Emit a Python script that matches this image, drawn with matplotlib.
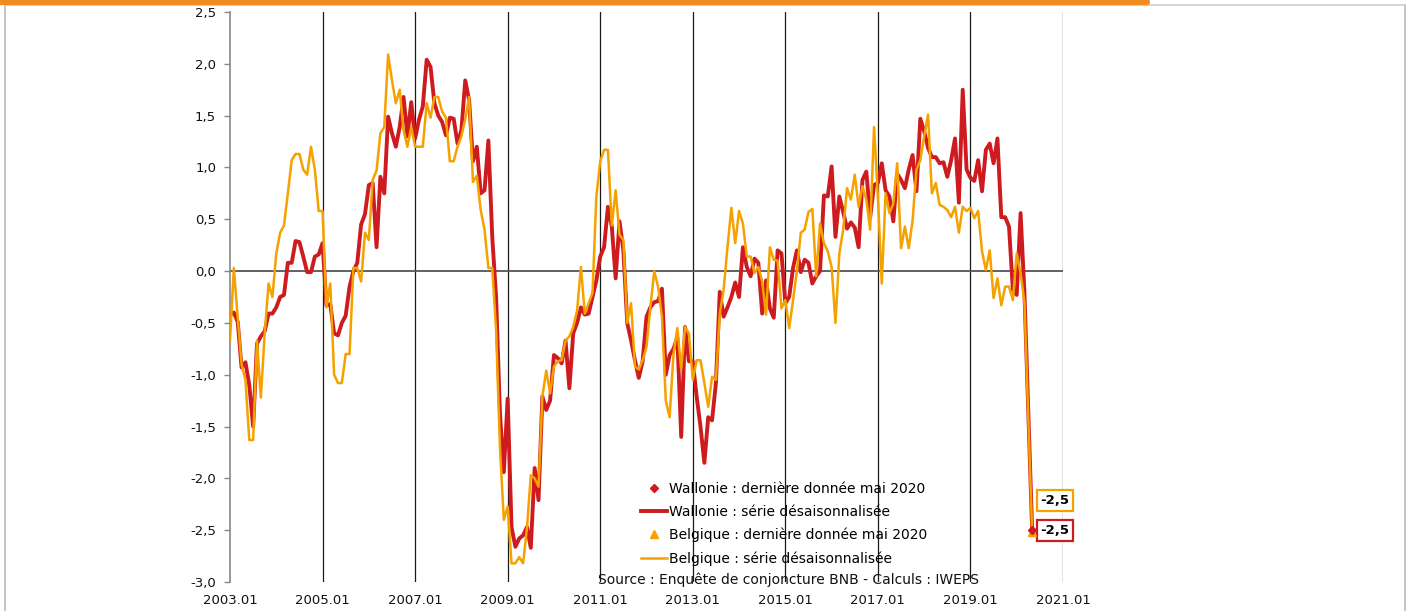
import numpy as np
import matplotlib
matplotlib.use("Agg")
import matplotlib.pyplot as plt
from matplotlib.lines import Line2D
from matplotlib.ticker import FuncFormatter

plt.rcParams['font.family'] = ['DejaVu Sans']
plt.rcParams['axes.unicode_minus'] = False

# monthly balance, 2003.01 -> 2020.05
wallonie = [
    -0.42, -0.40, -0.49, -0.93, -0.88, -1.10, -1.50, -0.70, -0.63, -0.58, -0.41, -0.41,  # 2003
    -0.35, -0.25, -0.23, 0.08, 0.08, 0.29, 0.28, 0.14, -0.01, -0.01, 0.14, 0.16,  # 2004
    0.27, -0.33, -0.32, -0.60, -0.62, -0.50, -0.43, -0.15, 0.00, 0.08, 0.45, 0.55,  # 2005
    0.83, 0.85, 0.23, 0.91, 0.75, 1.49, 1.33, 1.20, 1.39, 1.68, 1.30, 1.63,  # 2006
    1.28, 1.46, 1.59, 2.04, 1.97, 1.62, 1.50, 1.44, 1.31, 1.48, 1.47, 1.23,  # 2007
    1.36, 1.84, 1.65, 1.06, 1.20, 0.75, 0.78, 1.26, 0.33, -0.25, -1.37, -1.94,  # 2008
    -1.23, -2.47, -2.66, -2.58, -2.55, -2.47, -2.67, -1.90, -2.21, -1.21, -1.34, -1.25,  # 2009
    -0.81, -0.84, -0.89, -0.67, -1.13, -0.60, -0.50, -0.35, -0.42, -0.41, -0.25, -0.09,  # 2010
    0.14, 0.23, 0.62, 0.43, -0.07, 0.48, 0.20, -0.50, -0.67, -0.86, -1.03, -0.87,  # 2011
    -0.44, -0.35, -0.30, -0.29, -0.17, -1.00, -0.81, -0.75, -0.64, -1.60, -0.54, -0.87,  # 2012
    -0.87, -1.21, -1.50, -1.85, -1.41, -1.44, -1.08, -0.20, -0.44, -0.35, -0.25, -0.11,  # 2013
    -0.25, 0.23, 0.04, -0.05, 0.12, 0.08, -0.41, -0.09, -0.36, -0.45, 0.20, 0.17,  # 2014
    -0.31, -0.25, 0.03, 0.20, -0.01, 0.11, 0.08, -0.12, -0.05, 0.00, 0.73, 0.72,  # 2015
    1.01, 0.33, 0.72, 0.57, 0.41, 0.47, 0.42, 0.23, 0.88, 0.96, 0.52, 0.83,  # 2016
    0.85, 1.04, 0.78, 0.72, 0.48, 0.94, 0.88, 0.80, 0.98, 1.12, 0.77, 1.47,  # 2017
    1.35, 1.19, 1.10, 1.10, 1.04, 1.05, 0.91, 1.07, 1.28, 0.66, 1.75, 0.98,  # 2018
    0.90, 0.87, 1.07, 0.77, 1.17, 1.23, 1.04, 1.28, 0.52, 0.52, 0.43, -0.18,  # 2019
    -0.23, 0.56, -0.21, -1.35, -2.50,  # 2020
]
belgique = [
    -0.67, 0.03, -0.45, -0.90, -1.05, -1.63, -1.63, -0.67, -1.22, -0.60, -0.12, -0.25,  # 2003
    0.17, 0.37, 0.44, 0.75, 1.07, 1.13, 1.13, 0.98, 0.93, 1.20, 0.98, 0.58,  # 2004
    0.58, -0.35, -0.12, -1.00, -1.08, -1.08, -0.80, -0.80, 0.03, 0.03, -0.10, 0.37,  # 2005
    0.30, 0.88, 0.97, 1.33, 1.39, 2.09, 1.84, 1.62, 1.75, 1.36, 1.20, 1.39,  # 2006
    1.20, 1.20, 1.20, 1.62, 1.48, 1.68, 1.68, 1.54, 1.48, 1.06, 1.06, 1.20,  # 2007
    1.30, 1.47, 1.68, 0.86, 0.92, 0.59, 0.40, 0.03, 0.03, -0.57, -1.70, -2.40,  # 2008
    -2.27, -2.82, -2.82, -2.76, -2.82, -2.48, -1.97, -2.00, -2.08, -1.21, -0.96, -1.18,  # 2009
    -0.92, -0.87, -0.86, -0.67, -0.63, -0.54, -0.38, 0.04, -0.41, -0.31, -0.21, 0.72,  # 2010
    1.06, 1.17, 1.17, 0.44, 0.78, 0.35, 0.30, -0.50, -0.31, -0.92, -0.95, -0.86,  # 2011
    -0.73, -0.35, 0.00, -0.15, -0.44, -1.25, -1.41, -0.80, -0.55, -0.95, -0.54, -0.60,  # 2012
    -1.05, -0.86, -0.86, -1.08, -1.31, -1.02, -1.05, -0.41, -0.18, 0.23, 0.61, 0.27,  # 2013
    0.58, 0.46, 0.14, 0.14, -0.02, 0.04, -0.10, -0.42, 0.23, 0.11, 0.10, -0.36,  # 2014
    -0.28, -0.55, -0.28, 0.00, 0.37, 0.40, 0.57, 0.60, -0.05, 0.46, 0.27, 0.19,  # 2015
    0.04, -0.50, 0.17, 0.40, 0.80, 0.69, 0.93, 0.62, 0.82, 0.69, 0.40, 1.39,  # 2016
    0.72, -0.12, 0.75, 0.56, 0.65, 1.04, 0.22, 0.43, 0.22, 0.49, 0.98, 1.07,  # 2017
    1.30, 1.51, 0.75, 0.85, 0.64, 0.62, 0.59, 0.52, 0.62, 0.37, 0.62, 0.58,  # 2018
    0.61, 0.51, 0.58, 0.19, 0.01, 0.20, -0.26, -0.07, -0.33, -0.15, -0.15, -0.28,  # 2019
    0.17, -0.02, -0.30, -1.40, -2.52,  # 2020
]
tick_labels = ["2003.01", "2005.01", "2007.01", "2009.01", "2011.01",
               "2013.01", "2015.01", "2017.01", "2019.01", "2021.01"]
last_label = "-2,5"

RED = "#CE1B1F"
ORANGE = "#F5A100"

fig = plt.figure(figsize=(14.14, 6.11), dpi=100)
ax = fig.add_axes([230 / 1414, 29 / 611, 833 / 1414, 570 / 611])

x = np.arange(len(wallonie))
tick_pos = np.arange(len(tick_labels)) * 24

for t in tick_pos[1:]:
    ax.axvline(t, color="#1a1a1a", lw=0.9, zorder=1)
ax.axhline(0, color="#555555", lw=1.3, zorder=1)

ax.plot(x, wallonie, color=RED, lw=2.8, zorder=3)
ax.plot(x, belgique, color=ORANGE, lw=1.8, zorder=4)
ax.plot(x[-1], wallonie[-1], marker="D", ms=4, color=RED, zorder=6)
ax.plot(x[-1], belgique[-1], marker="^", ms=6, color=ORANGE, zorder=5)

ax.set_xlim(0, 216)
ax.set_ylim(-3.0, 2.5)
ax.set_xticks(tick_pos)
ax.set_xticklabels(tick_labels)
ax.set_yticks(np.arange(-3.0, 2.51, 0.5))
ax.yaxis.set_major_formatter(FuncFormatter(lambda v, p: f"{v:.1f}".replace(".", ",")))
ax.tick_params(axis="x", length=0, pad=9, labelsize=9.5, colors="#111111")
ax.tick_params(axis="y", length=4, width=1, color="#888888", pad=6, labelsize=9.5, labelcolor="#111111")
for side in ["top", "right", "bottom"]:
    ax.spines[side].set_visible(False)
ax.spines["left"].set_color("#888888")
ax.spines["left"].set_linewidth(1.2)

# end-of-series labels
ax.annotate(last_label, xy=(x[-1], wallonie[-1]), xytext=(6, 0), textcoords="offset points",
            va="center", ha="left", fontsize=9.5, fontweight="bold",
            bbox=dict(boxstyle="square,pad=0.3", fc="white", ec=RED, lw=1.6))
ax.annotate(last_label, xy=(x[-1], belgique[-1]), xytext=(6, 23), textcoords="offset points",
            va="center", ha="left", fontsize=9.5, fontweight="bold",
            bbox=dict(boxstyle="square,pad=0.3", fc="white", ec=ORANGE, lw=1.6))

handles = [
    Line2D([], [], ls="none", marker="D", ms=4, color=RED),
    Line2D([], [], color=RED, lw=2.8),
    Line2D([], [], ls="none", marker="^", ms=6, color=ORANGE),
    Line2D([], [], color=ORANGE, lw=1.8),
]
labels = [
    "Wallonie : dernière donnée mai 2020",
    "Wallonie : série désaisonnalisée",
    "Belgique : dernière donnée mai 2020",
    "Belgique : série désaisonnalisée",
]
ax.legend(handles, labels, loc="upper left", bbox_to_anchor=(0.493, 0.176), frameon=False,
          fontsize=10, handlelength=1.9, handletextpad=0.15, labelspacing=0.65,
          borderpad=0, borderaxespad=0)

fig.text(789 / 1414, 1 - 580 / 611, "Source : Enquête de conjoncture BNB - Calculs : IWEPS",
         ha="center", va="center", fontsize=10, color="#111111")

# frame and top band
fig.add_artist(Line2D([5 / 1414, 5 / 1414], [0, 1 - 5 / 611], color="#bbbbbb", lw=1.2))
fig.add_artist(Line2D([1405 / 1414, 1405 / 1414], [0, 1 - 5 / 611], color="#bbbbbb", lw=1.2))
fig.add_artist(Line2D([5 / 1414, 1405 / 1414], [1 - 5 / 611, 1 - 5 / 611], color="#cccccc", lw=1.2))
fig.add_artist(Line2D([-0.01, 1147 / 1414], [1 - 1.5 / 611, 1 - 1.5 / 611], color="#F28A22",
                      lw=4.5, solid_capstyle="round"))

fig.savefig("out.png", dpi=100)
